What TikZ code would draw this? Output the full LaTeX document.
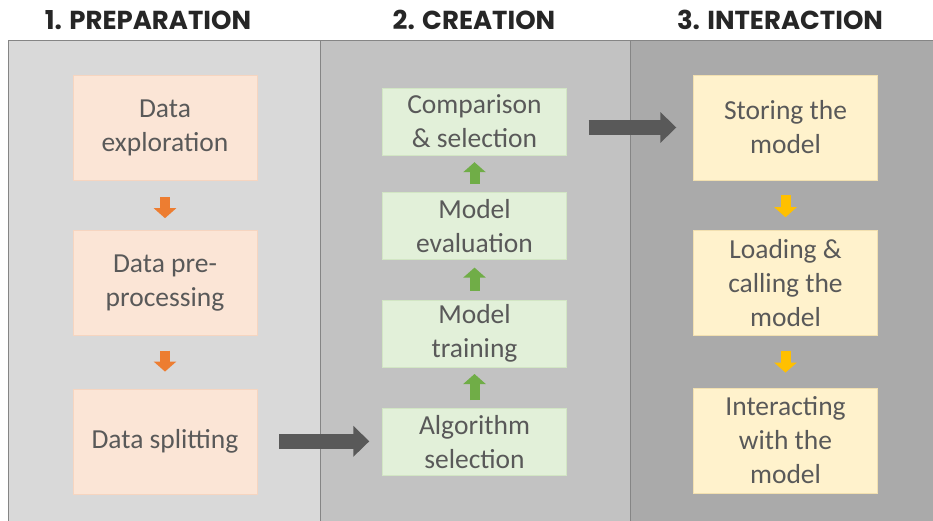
\documentclass[tikz,border=0pt]{standalone}
\usepackage{fontspec}
\setmainfont{Carlito}
\newfontfamily\headfont{Poppins}
\usetikzlibrary{positioning,arrows.meta}

\definecolor{panelA}{HTML}{D9D9D9}
\definecolor{panelB}{HTML}{C2C2C2}
\definecolor{panelC}{HTML}{AAAAAA}
\definecolor{panelline}{HTML}{858585}
\definecolor{textgray}{HTML}{595959}
\definecolor{prepfill}{HTML}{FBE5D6}
\definecolor{prepline}{HTML}{F6D5C0}
\definecolor{prepdark}{HTML}{ED7D31}
\definecolor{creafill}{HTML}{E2F0D9}
\definecolor{crealine}{HTML}{D2E6C4}
\definecolor{creadark}{HTML}{70AD47}
\definecolor{interfill}{HTML}{FFF2CC}
\definecolor{interline}{HTML}{F2E0B0}
\definecolor{interdark}{HTML}{FFC000}
\definecolor{arrowgray}{HTML}{595959}

\begin{document}
\begin{tikzpicture}[
    x=1pt, y=1pt,
    node distance=50pt,
    head/.style={
        font=\headfont\bfseries\fontsize{26}{28}\selectfont,
        text=black!85
    },
    box/.style={
        align=center,
        inner sep=0pt,
        text=textgray,
        font=\fontsize{27.5}{34}\selectfont,
        minimum width=184pt,
        minimum height=105pt
    },
    prepbox/.style={box, fill=prepfill, draw=prepline},
    creabox/.style={box, fill=creafill, draw=crealine, minimum height=67pt},
    interbox/.style={box, fill=interfill, draw=interline},
    small/.style={
        line width=10pt,
        -{Triangle[length=10pt,width=22pt]}
    },
    big/.style={
        draw=arrowgray,
        line width=15pt,
        -{Triangle[length=16pt,width=30pt]}
    }
]

\useasboundingbox (0,0) rectangle (933,-521);

% panels
\draw[panelline, fill=panelA] (8,-40) rectangle (320,-530);
\draw[panelline, fill=panelB] (320,-40) rectangle (630,-530);
\draw[panelline, fill=panelC] (630,-40) rectangle (940,-530);

\node[head] (prephead) at (148,-20) {1. PREPARATION};
\node[head] (creahead) at (474,-20) {2. CREATION};
\node[head] (interhead) at (780,-20) {3. INTERACTION};

% preparation
\node[prepbox] (explore) at (165,-127.5) {Data\\exploration};
\node[prepbox, below=of explore] (preproc) {Data pre-\\processing};
\node[prepbox, below=53pt of preproc] (split) {Data splitting};

% creation
\node[creabox] (compare) at (474.5,-121.5) {Comparison\\\& selection};
\node[creabox, below=37pt of compare] (evaluate) {Model\\evaluation};
\node[creabox, below=40pt of evaluate] (train) {Model\\training};
\node[creabox, below=41pt of train] (algo) {Algorithm\\selection};

% interaction
\node[interbox] (store) at (785.5,-127.5) {Storing the\\model};
\node[interbox, below=of store] (load) {Loading \&\\calling the\\model};
\node[interbox, below=52pt of load] (interact) {Interacting\\with the\\model};

\draw[small, prepdark, shorten <=17pt, shorten >=12pt] (explore) -- (preproc);
\draw[small, prepdark, shorten <=15pt, shorten >=17pt] (preproc) -- (split);

\draw[small, creadark, shorten <=8pt, shorten >=7pt] (algo) -- (train);
\draw[small, creadark, shorten <=9pt, shorten >=8pt] (train) -- (evaluate);
\draw[small, creadark, shorten <=8pt, shorten >=7pt] (evaluate) -- (compare);

\draw[small, interdark, shorten <=15pt, shorten >=13pt] (store) -- (load);
\draw[small, interdark, shorten <=15pt, shorten >=15pt] (load) -- (interact);

\draw[big, shorten <=22pt, shorten >=13pt] (split.east) -- (split.east -| algo.west);
\draw[big, shorten <=22pt, shorten >=17pt] (compare.east |- store) -- (store.west);

\end{tikzpicture}
\end{document}
